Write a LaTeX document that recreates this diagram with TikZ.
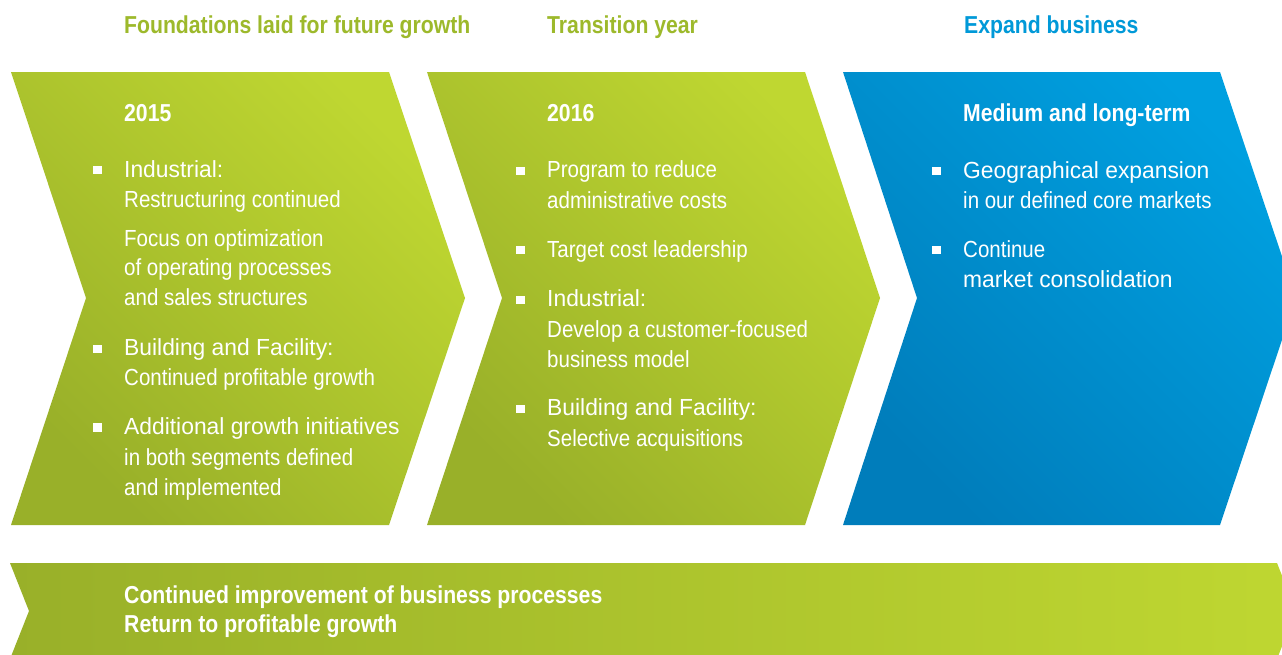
\documentclass[tikz,border=0pt]{standalone}
\usepackage{fontspec}
\setmainfont{Liberation Sans}
\newfontfamily\regfont{Liberation Sans}[FakeStretch=0.98]
\newfontfamily\litefont{Liberation Sans}[FakeStretch=0.88]
\newfontfamily\boldfont{Liberation Sans}[FakeStretch=0.865]
\definecolor{gDark}{HTML}{99B029}
\definecolor{gLight}{HTML}{BFD731}
\definecolor{bDark}{HTML}{007DBB}
\definecolor{bLight}{HTML}{00A0E0}
\definecolor{hGreen}{HTML}{9DB92B}
\definecolor{hBlue}{HTML}{0099D8}
\tikzset{
  lt/.style={anchor=base west, inner sep=0pt, text=white, font=\litefont\fontsize{23.3}{28}\selectfont},
  rg/.style={anchor=base west, inner sep=0pt, text=white, font=\regfont\fontsize{23.3}{28}\selectfont},
  hd/.style={anchor=base west, inner sep=0pt, text=white, font=\boldfont\bfseries\fontsize{24.5}{28}\selectfont},
  bul/.style={fill=white, draw=none, minimum width=9pt, minimum height=8.5pt, inner sep=0pt},
  gshade/.style={left color=gDark, right color=gLight, shading angle=135},
  bshade/.style={left color=bDark, right color=bLight, shading angle=135},
}
\begin{document}
\begin{tikzpicture}[x=1pt,y=-1pt]
\useasboundingbox (0,0) rectangle (1282,654);
\clip (0,0) rectangle (1282,654);
\fill[white] (0,0) rectangle (1282,654);

% chevrons
\shade[gshade] (11,72) -- (389,72) -- (465,298) -- (389,525) -- (11,525) -- (86,298) -- cycle;
\shade[gshade] (427,72) -- (805,72) -- (880,298) -- (805,525) -- (427,525) -- (502,298) -- cycle;
\shade[bshade] (843,72) -- (1220,72) -- (1296,298) -- (1220,525) -- (843,525) -- (917,298) -- cycle;
% bottom band
\shade[left color=gDark, right color=gLight, shading angle=90] (10,563) -- (1277,563) -- (1296,611) -- (1277,659) -- (10,659) -- (29,611) -- cycle;

% top headings
\node[hd, text=hGreen] (h1) at (124,33) {Foundations laid for future growth};
\node[hd, text=hGreen] (h2) at (547,33) {Transition year};
\node[hd, text=hBlue] (h3) at (964,33) {Expand business};

% column 1
\node[hd] (y1) at (124,121) {2015};
\node[bul] (b11) at (97.5,170) {};
\node[rg] (c1a) at (124,177) {Industrial:};
\node[lt] (c1b) at (124,207) {Restructuring continued};
\node[lt] (c1c) at (124,246) {Focus on optimization};
\node[lt] (c1d) at (124,275.5) {of operating processes};
\node[lt] (c1e) at (124,305) {and sales structures};
\node[bul] (b12) at (97.5,349) {};
\node[rg] (c1f) at (124,355) {Building and Facility:};
\node[lt] (c1g) at (124,385) {Continued profitable growth};
\node[bul] (b13) at (97.5,427.5) {};
\node[rg] (c1h) at (124,434) {Additional growth initiatives};
\node[lt] (c1i) at (124,465) {in both segments defined};
\node[lt] (c1j) at (124,495) {and implemented};

% column 2
\node[hd] (y2) at (547,121) {2016};
\node[bul] (b21) at (520.5,171) {};
\node[lt] (c2a) at (547,177) {Program to reduce};
\node[lt] (c2b) at (547,208) {administrative costs};
\node[bul] (b22) at (520.5,250) {};
\node[lt] (c2c) at (547,257) {Target cost leadership};
\node[bul] (b23) at (520.5,300) {};
\node[rg] (c2d) at (547,306) {Industrial:};
\node[lt] (c2e) at (547,337) {Develop a customer-focused};
\node[lt] (c2f) at (547,367) {business model};
\node[bul] (b24) at (520.5,409) {};
\node[rg] (c2g) at (547,415) {Building and Facility:};
\node[lt] (c2h) at (547,446) {Selective acquisitions};

% column 3
\node[hd] (y3) at (963,121) {Medium and long-term};
\node[bul] (b31) at (936.5,171) {};
\node[rg] (c3a) at (963,178) {Geographical expansion};
\node[lt] (c3b) at (963,208) {in our defined core markets};
\node[bul] (b32) at (936.5,250) {};
\node[lt] (c3c) at (963,257) {Continue};
\node[rg] (c3d) at (963,287) {market consolidation};

% bottom band text
\node[hd] (f1) at (124,603) {Continued improvement of business processes};
\node[hd] (f2) at (124,632) {Return to profitable growth};
\end{tikzpicture}
\end{document}
